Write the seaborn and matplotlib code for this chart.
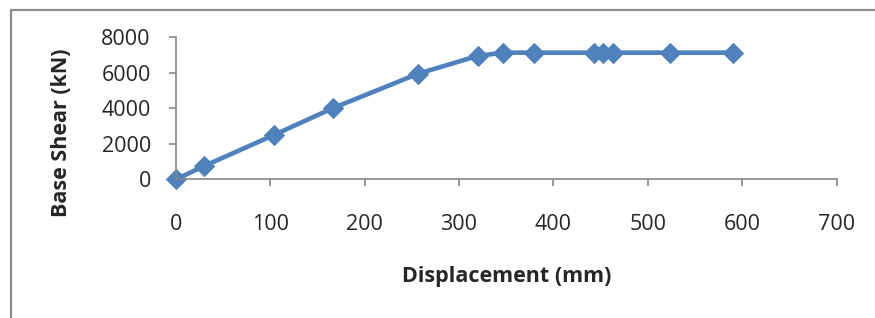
import matplotlib
matplotlib.use("Agg")
import matplotlib.pyplot as plt
from matplotlib.lines import Line2D
import seaborn as sns
import pandas as pd

displacement = [0, 30, 104, 166, 257, 320, 347, 379, 443, 453, 463, 524, 590]
base_shear = [0, 750, 2500, 4000, 5950, 6950, 7130, 7130, 7130, 7130, 7130, 7130, 7130]
x_ticks = [0, 100, 200, 300, 400, 500, 600, 700]
y_ticks = [0, 2000, 4000, 6000, 8000]

df = pd.DataFrame({"Displacement (mm)": displacement, "Base Shear (kN)": base_shear})

sns.set_style("white")
plt.rcParams["font.family"] = ["Open Sans", "DejaVu Sans"]

fig = plt.figure(figsize=(8.75, 3.18), dpi=100)
ax = fig.add_axes([0.201, 0.436, 0.755, 0.447])

sns.lineplot(data=df, x="Displacement (mm)", y="Base Shear (kN)", ax=ax,
             sort=False, color="#4F81BD", linewidth=3.3, marker="D",
             markersize=10, markeredgecolor="#4F81BD", clip_on=False)

ax.set_xlim(0, 700)
ax.set_ylim(0, 8000)
ax.set_xticks(x_ticks)
ax.set_yticks(y_ticks)

grey = "#868686"
for side in ["top", "right"]:
    ax.spines[side].set_visible(False)
for side in ["left", "bottom"]:
    ax.spines[side].set_color(grey)
    ax.spines[side].set_linewidth(1.2)

ax.tick_params(axis="x", direction="out", length=5, width=1.2, color=grey,
               pad=20, labelsize=15.5, bottom=True)
ax.tick_params(axis="y", direction="out", length=5, width=1.2, color=grey,
               pad=13, labelsize=15.5, left=True)

ax.set_xlabel("Displacement (mm)", fontsize=15.5, fontweight="bold")
ax.set_ylabel("Base Shear (kN)", fontsize=15.5, fontweight="bold")
ax.xaxis.set_label_coords(0.5, -0.61)
ax.yaxis.set_label_coords(-0.157, 0.33)

# outer chart frame (only left and top edges visible in the crop)
fig.add_artist(Line2D([0.012, 0.012], [0, 0.970], transform=fig.transFigure,
                      color="#8c8c8c", linewidth=1.6))
fig.add_artist(Line2D([0.012, 1.0], [0.970, 0.970], transform=fig.transFigure,
                      color="#8c8c8c", linewidth=1.6))

fig.savefig("out.png", dpi=100)
